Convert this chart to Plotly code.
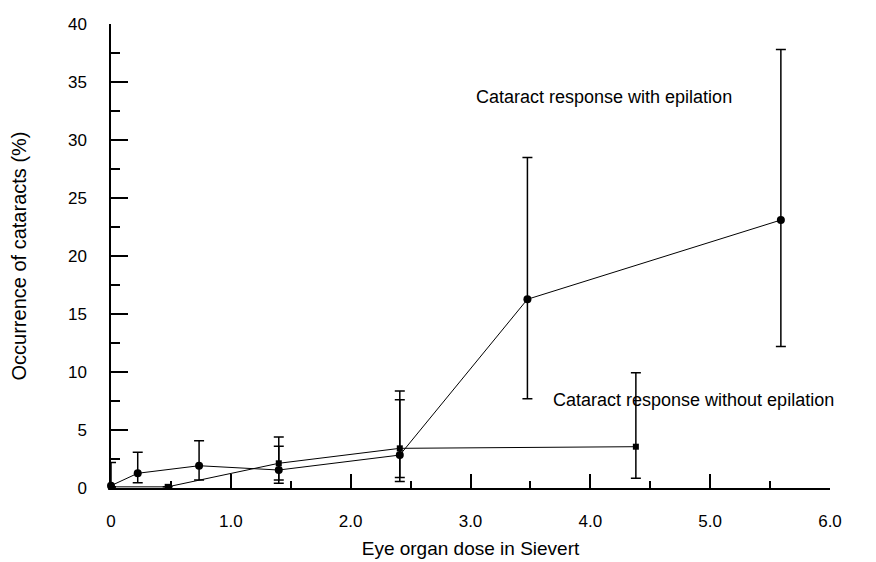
import plotly.graph_objects as go

# With epilation (circles)
with_x = [0, 0.223, 0.735, 1.40, 2.41, 3.475, 5.59]
with_y = [0.2, 1.27, 1.92, 1.55, 2.84, 16.27, 23.1]
with_hi = [2.2, 3.08, 4.08, 3.6, 7.6, 28.5, 37.8]
with_lo = [0.0, 0.46, 0.7, 0.4, 0.9, 7.7, 12.2]

# Without epilation (squares)
without_x = [0, 0.473, 1.40, 2.41, 4.38]
without_y = [0.1, 0.1, 2.13, 3.42, 3.56]
without_hi = [0.1, 0.1, 4.4, 8.36, 9.94]
without_lo = [0.1, 0.1, 0.69, 0.55, 0.84]

x_ticks = [0, 1, 2, 3, 4, 5, 6]
x_ticktext = ["0", "1.0", "2.0", "3.0", "4.0", "5.0", "6.0"]
y_ticks = [0, 5, 10, 15, 20, 25, 30, 35, 40]

label_with = "Cataract response with epilation"
label_without = "Cataract response without epilation"
x_title = "Eye organ dose in Sievert"
y_title = "Occurrence of cataracts (%)"

FONT = "Liberation Sans, Arial, sans-serif"

fig = go.Figure()

fig.add_trace(go.Scatter(
    x=with_x, y=with_y, mode="lines+markers",
    line=dict(color="black", width=1),
    marker=dict(symbol="circle", size=8, color="black"),
    error_y=dict(type="data", symmetric=False,
                 array=[h - v for h, v in zip(with_hi, with_y)],
                 arrayminus=[v - l for l, v in zip(with_lo, with_y)],
                 color="black", thickness=1.5, width=5),
    cliponaxis=False, showlegend=False))

fig.add_trace(go.Scatter(
    x=without_x, y=without_y, mode="lines+markers",
    line=dict(color="black", width=1),
    marker=dict(symbol="square", size=6, color="black"),
    error_y=dict(type="data", symmetric=False,
                 array=[h - v for h, v in zip(without_hi, without_y)],
                 arrayminus=[v - l for l, v in zip(without_lo, without_y)],
                 color="black", thickness=1.5, width=5),
    cliponaxis=False, showlegend=False))

fig.add_annotation(x=3.03, y=33.7, text=label_with, showarrow=False,
                   xanchor="left", yanchor="middle",
                   font=dict(family=FONT, size=18, color="black"))
fig.add_annotation(x=3.67, y=7.6, text=label_without, showarrow=False,
                   xanchor="left", yanchor="middle",
                   font=dict(family=FONT, size=18, color="black"))

# The page body adds an 8px offset; compensate so the plot lands where the reference has it.
fig.update_layout(
    width=866, height=552,
    margin=dict(l=103, r=44, t=16, b=72),
    paper_bgcolor="white", plot_bgcolor="white",
    font=dict(family=FONT, size=17, color="black"),
    xaxis=dict(range=[0, 6], tickvals=x_ticks, ticktext=x_ticktext,
               automargin=False,
               showgrid=False, zeroline=False,
               showline=True, linecolor="black", linewidth=1.5,
               ticks="inside", ticklen=14, tickwidth=1.5, tickcolor="black",
               minor=dict(dtick=0.5, ticks="inside", ticklen=7, tickwidth=1.5, tickcolor="black"),
               ticklabelstandoff=17,
               title=dict(text=x_title, standoff=12, font=dict(size=19)),
               tickfont=dict(size=17)),
    yaxis=dict(range=[0, 40], tickvals=y_ticks,
               automargin=False,
               showgrid=False, zeroline=False,
               showline=True, linecolor="black", linewidth=1.5,
               ticks="inside", ticklen=17, tickwidth=1.5, tickcolor="black",
               minor=dict(dtick=2.5, ticks="inside", ticklen=9, tickwidth=1.5, tickcolor="black"),
               ticklabelstandoff=19,
               title=dict(text=y_title, standoff=40, font=dict(size=20)),
               tickfont=dict(size=17)),
)

fig.write_html("out.html")
